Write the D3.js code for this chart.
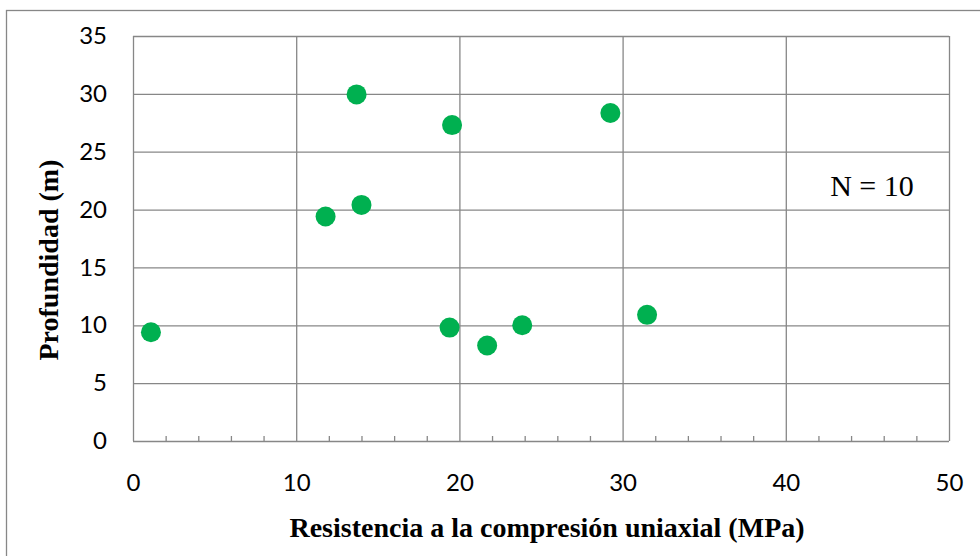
<!DOCTYPE html>
<html>
<head>
<meta charset="utf-8">
<script src="https://cdn.jsdelivr.net/npm/d3@7"></script>
<style>
  html, body { margin: 0; padding: 0; background: #fff; }
  svg { display: block; }
</style>
</head>
<body>
<svg id="chart" width="980" height="556"></svg>
<script>
// Uniaxial compressive strength (MPa) vs. depth (m)
const resistencia = [1.1, 11.8, 13.7, 14.0, 19.4, 19.55, 21.7, 23.85, 29.25, 31.5];
const profundidad = [9.4, 19.4, 29.95, 20.4, 9.8, 27.3, 8.25, 10.0, 28.35, 10.9];
const xTicks = [0, 10, 20, 30, 40, 50];
const xMinorTicks = d3.range(0, 51, 2);
const yTicks = [0, 5, 10, 15, 20, 25, 30, 35];
const xTitle = "Resistencia a la compresión uniaxial (MPa)";
const yTitle = "Profundidad (m)";
const note = "N = 10";

const svg = d3.select("#chart");
const gridColor = "#878787";
const dotColor = "#00B050";
const tickFont = "Lato, 'Open Sans', sans-serif";
const titleFont = "'Liberation Serif', 'Times New Roman', serif";

const margin = { left: 133, top: 36, right: 31, bottom: 115 };
const W = 980, H = 556;

const x = d3.scaleLinear().domain([0, 50]).range([margin.left, W - margin.right]);
const y = d3.scaleLinear().domain([0, 35]).range([H - margin.bottom, margin.top]);

// outer chart frame (extends past the right and bottom edges)
svg.append("rect")
  .attr("x", 6.5).attr("y", 10.5)
  .attr("width", 1000).attr("height", 600)
  .attr("fill", "none").attr("stroke", gridColor).attr("stroke-width", 1.3);

// horizontal gridlines
svg.append("g")
  .attr("transform", `translate(${margin.left},0)`)
  .call(d3.axisLeft(y).tickValues(yTicks).tickSize(-(x(50) - x(0))).tickFormat(""))
  .call(g => g.select(".domain").remove())
  .call(g => g.selectAll("line").attr("stroke", gridColor).attr("stroke-width", 1.3));

// vertical gridlines
svg.append("g")
  .attr("transform", `translate(0,${y(0)})`)
  .call(d3.axisBottom(x).tickValues(xTicks).tickSize(-(y(0) - y(35))).tickFormat(""))
  .call(g => g.select(".domain").remove())
  .call(g => g.selectAll("line").attr("stroke", gridColor).attr("stroke-width", 1.3));

// minor ticks on the x axis (pointing into the plot)
svg.append("g")
  .attr("transform", `translate(0,${y(0)})`)
  .call(d3.axisBottom(x).tickValues(xMinorTicks.filter(v => v % 10 !== 0)).tickSize(-5).tickFormat(""))
  .call(g => g.select(".domain").remove())
  .call(g => g.selectAll("line").attr("stroke", gridColor).attr("stroke-width", 1.3));

// x axis labels
svg.append("g")
  .attr("transform", `translate(0,${y(0)})`)
  .call(d3.axisBottom(x).tickValues(xTicks).tickSize(0).tickPadding(33))
  .call(g => g.select(".domain").remove())
  .call(g => g.selectAll("text")
    .attr("font-family", tickFont)
    .attr("font-size", 24).attr("fill", "#000"));

// y axis labels
svg.append("g")
  .attr("transform", `translate(${margin.left},0)`)
  .call(d3.axisLeft(y).tickValues(yTicks).tickSize(0).tickPadding(26))
  .call(g => g.select(".domain").remove())
  .call(g => g.selectAll("text")
    .attr("font-family", tickFont)
    .attr("font-size", 24).attr("fill", "#000"));

// data points
svg.append("g")
  .selectAll("circle")
  .data(resistencia.map((r, i) => ({ r, p: profundidad[i] })))
  .join("circle")
  .attr("cx", d => x(d.r))
  .attr("cy", d => y(d.p))
  .attr("r", 10)
  .attr("fill", dotColor);

// axis titles
svg.append("text")
  .attr("x", 547).attr("y", 537)
  .attr("text-anchor", "middle")
  .attr("font-family", titleFont)
  .attr("font-weight", "bold")
  .attr("font-size", 28)
  .text(xTitle);

svg.append("text")
  .attr("transform", "translate(58,260) rotate(-90)")
  .attr("text-anchor", "middle")
  .attr("font-family", titleFont)
  .attr("font-weight", "bold")
  .attr("font-size", 28)
  .text(yTitle);

// sample count note
svg.append("text")
  .attr("x", 872).attr("y", 196)
  .attr("text-anchor", "middle")
  .attr("font-family", titleFont)
  .attr("font-size", 30)
  .text(note);
</script>
</body>
</html>
